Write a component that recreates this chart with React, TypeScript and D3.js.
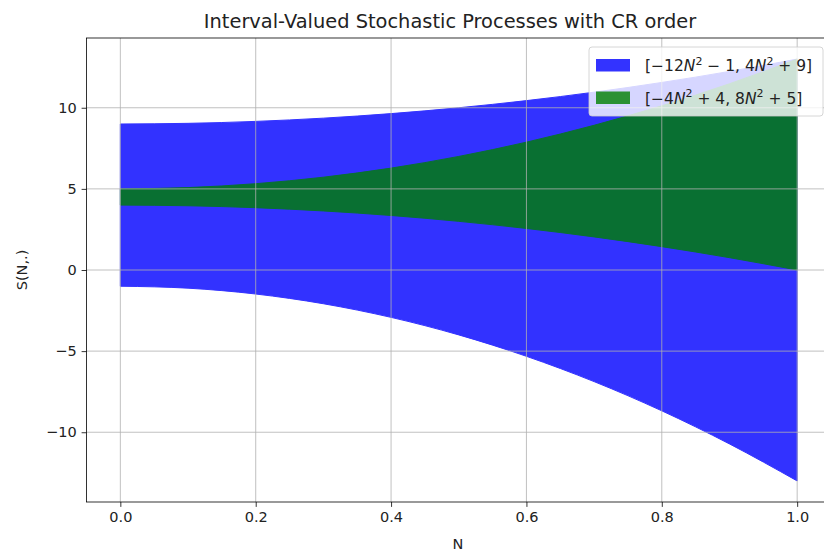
import { useEffect, useRef } from "react";
import * as d3 from "d3";

// sample points along N
const nValues = [0, 0.1, 0.2, 0.3, 0.4, 0.5, 0.6, 0.7, 0.8, 0.9, 1.0];

// blue interval [-12N^2 - 1, 4N^2 + 9]
const blueLower = [-1, -1.12, -1.48, -2.08, -2.92, -4, -5.32, -6.88, -8.68, -10.72, -13];
const blueUpper = [9, 9.04, 9.16, 9.36, 9.64, 10, 10.44, 10.96, 11.56, 12.24, 13];

// green interval [-4N^2 + 4, 8N^2 + 5]
const greenLower = [4, 3.96, 3.84, 3.64, 3.36, 3, 2.56, 2.04, 1.44, 0.76, 0];
const greenUpper = [5, 5.08, 5.32, 5.72, 6.28, 7, 7.88, 8.92, 10.12, 11.48, 13];

const xTicks = [0, 0.2, 0.4, 0.6, 0.8, 1.0];
const yTicks = [-10, -5, 0, 5, 10];

// legend labels as [text, italic, superscript] pieces
const legendLabels: [string, boolean, boolean][][] = [
  [
    ["[\u221212", false, false],
    ["N", true, false],
    ["2", false, true],
    [" \u2212 1, 4", false, false],
    ["N", true, false],
    ["2", false, true],
    [" + 9]", false, false],
  ],
  [
    ["[\u22124", false, false],
    ["N", true, false],
    ["2", false, true],
    [" + 4, 8", false, false],
    ["N", true, false],
    ["2", false, true],
    [" + 5]", false, false],
  ],
];

const FONT = "DejaVu Sans, sans-serif";

export default function App() {
  const ref = useRef<SVGSVGElement>(null);

  useEffect(() => {
    if (!ref.current) return;
    document.body.style.margin = "0";
    const svg = d3.select(ref.current);
    svg.selectAll("*").remove();

    const plot = { left: 86.5, right: 831, top: 38, bottom: 502 };

    const x = d3.scaleLinear().domain([-0.05, 1.05]).range([plot.left, plot.right]);
    const y = d3.scaleLinear().domain([-14.3, 14.3]).range([plot.bottom, plot.top]);

    const series = [
      { lower: blueLower, upper: blueUpper, color: "blue" },
      { lower: greenLower, upper: greenUpper, color: "green" },
    ];

    // Filled intervals
    series.forEach((s) => {
      const a = d3
        .area<number>()
        .x((_, i) => x(nValues[i]))
        .y0((_, i) => y(s.lower[i]))
        .y1((_, i) => y(s.upper[i]))
        .curve(d3.curveMonotoneX);
      svg
        .append("path")
        .datum(nValues)
        .attr("d", a)
        .attr("fill", s.color)
        .attr("stroke", s.color)
        .attr("stroke-width", 1)
        .attr("opacity", 0.8);
    });

    // Gridlines (above fills, like matplotlib)
    const grid = svg.append("g").attr("stroke", "#b0b0b0").attr("stroke-width", 0.8);
    xTicks.forEach((t) => {
      grid.append("line").attr("x1", x(t)).attr("x2", x(t)).attr("y1", plot.top).attr("y2", plot.bottom);
    });
    yTicks.forEach((t) => {
      grid.append("line").attr("x1", plot.left).attr("x2", plot.right).attr("y1", y(t)).attr("y2", y(t));
    });

    // Axes
    svg
      .append("g")
      .attr("transform", `translate(0,${plot.bottom})`)
      .call(
        d3
          .axisBottom(x)
          .tickValues(xTicks)
          .tickSize(4.9)
          .tickPadding(4.9)
          .tickFormat((d) => (d as number).toFixed(1))
      )
      .call((s) => s.select(".domain").remove())
      .call((s) => s.selectAll(".tick line").attr("stroke", "#000").attr("stroke-width", 0.8))
      .call((s) =>
        s.selectAll(".tick text").attr("fill", "#222").attr("font-size", "14.5px").attr("font-family", FONT)
      );

    svg
      .append("g")
      .attr("transform", `translate(${plot.left},0)`)
      .call(
        d3
          .axisLeft(y)
          .tickValues(yTicks)
          .tickSize(4.9)
          .tickPadding(4.9)
          .tickFormat((d) => String(d).replace("-", "\u2212"))
      )
      .call((s) => s.select(".domain").remove())
      .call((s) => s.selectAll(".tick line").attr("stroke", "#000").attr("stroke-width", 0.8))
      .call((s) =>
        s.selectAll(".tick text").attr("fill", "#222").attr("font-size", "14.5px").attr("font-family", FONT)
      );

    // Spines
    svg
      .append("rect")
      .attr("x", plot.left)
      .attr("y", plot.top)
      .attr("width", plot.right - plot.left)
      .attr("height", plot.bottom - plot.top)
      .attr("fill", "none")
      .attr("stroke", "#000")
      .attr("stroke-width", 0.8);

    // Title and labels
    svg
      .append("text")
      .attr("x", 450)
      .attr("y", 28)
      .attr("text-anchor", "middle")
      .attr("font-family", FONT)
      .attr("font-size", "19.4px")
      .attr("fill", "#222")
      .text("Interval-Valued Stochastic Processes with CR order");

    svg
      .append("text")
      .attr("x", 458)
      .attr("y", 549)
      .attr("text-anchor", "middle")
      .attr("font-family", FONT)
      .attr("font-size", "14.5px")
      .attr("fill", "#222")
      .text("N");

    svg
      .append("text")
      .attr("transform", `translate(27,${(plot.top + plot.bottom) / 2}) rotate(-90)`)
      .attr("text-anchor", "middle")
      .attr("font-family", FONT)
      .attr("font-size", "14.5px")
      .attr("fill", "#222")
      .text("S(N,.)");

    // Legend
    const legend = svg.append("g");
    legend
      .append("rect")
      .attr("x", 589)
      .attr("y", 47)
      .attr("width", 234)
      .attr("height", 69)
      .attr("rx", 3)
      .attr("fill", "#fff")
      .attr("fill-opacity", 0.8)
      .attr("stroke", "#cccccc")
      .attr("stroke-width", 0.8);

    series.forEach((s, i) => {
      const yy = 59 + i * 32.5;
      legend
        .append("rect")
        .attr("x", 596)
        .attr("y", yy)
        .attr("width", 34)
        .attr("height", 12.5)
        .attr("fill", s.color)
        .attr("opacity", 0.8);
      const t = legend
        .append("text")
        .attr("x", 645)
        .attr("y", yy + 12)
        .attr("font-family", FONT)
        .attr("font-size", "15.5px")
        .attr("fill", "#222");
      legendLabels[i].forEach(([txt, italic, sup], k) => {
        const ts = t.append("tspan").text(txt);
        if (italic) ts.attr("font-style", "italic");
        if (sup) ts.attr("font-size", "11px").attr("dy", -6.5);
        else if (k > 0 && legendLabels[i][k - 1][2]) ts.attr("dy", 6.5);
      });
    });
  }, []);

  return (
    <svg
      ref={ref}
      width={824}
      height={551}
      style={{ position: "absolute", left: 0, top: 0, background: "#fff" }}
    />
  );
}
